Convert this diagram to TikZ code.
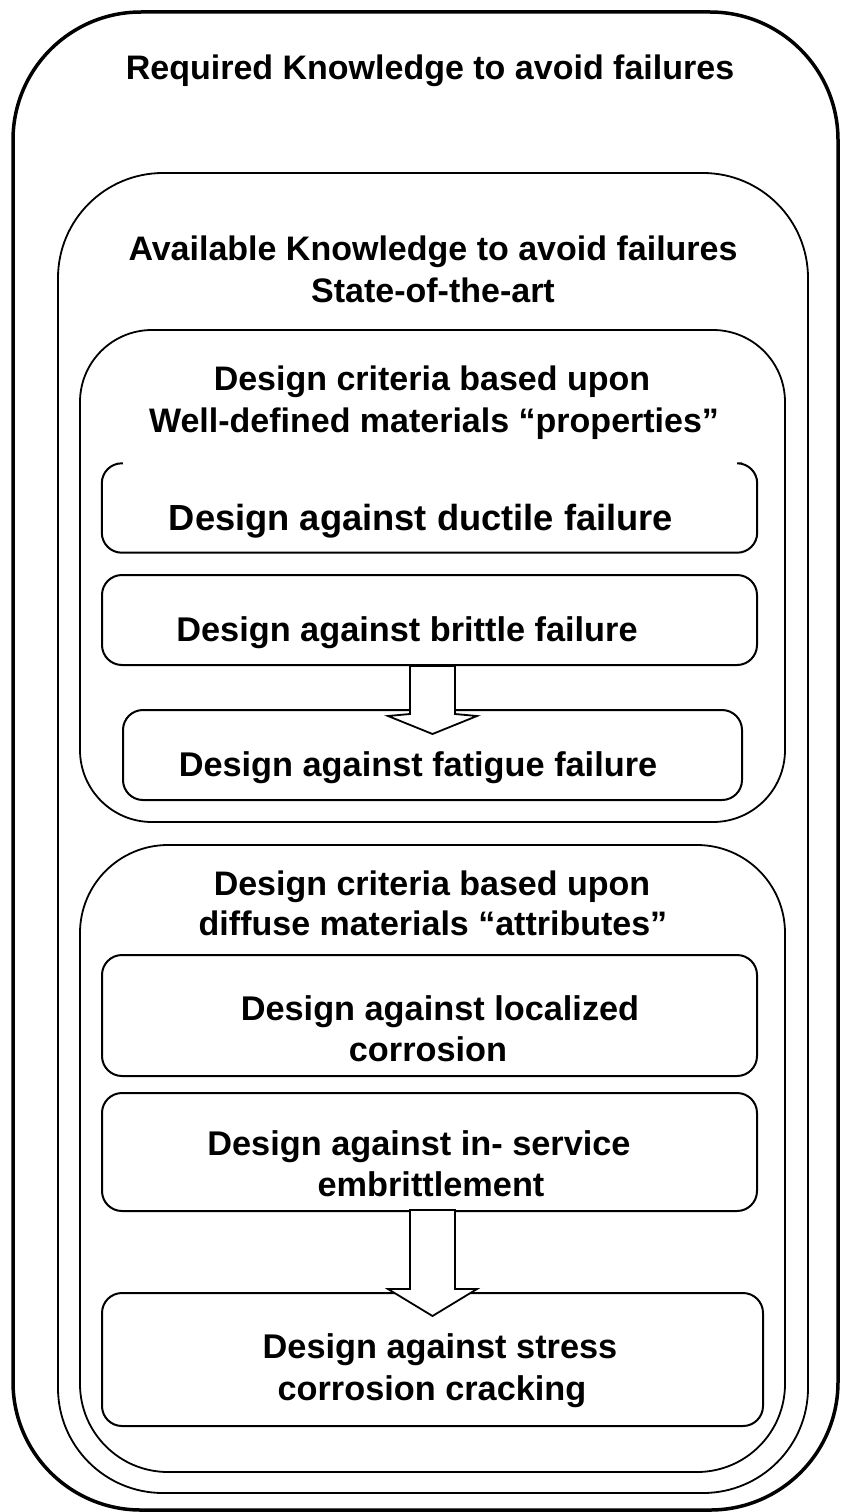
\documentclass[tikz,border=0pt]{standalone}
\usepackage{fontspec}
\setmainfont{Liberation Sans}
\usetikzlibrary{calc}
\begin{document}
\begin{tikzpicture}[x=1pt,y=-1pt,
  frame/.style={draw, inner sep=0pt, rectangle},
  bigbox/.style={frame, line width=1.8pt},
  smallbox/.style={frame, line width=2pt, rounded corners=20pt},
  hdr/.style={anchor=base, inner sep=0pt, font=\bfseries\fontsize{34}{41}\selectfont},
  txt/.style={anchor=base, inner sep=0pt, font=\bfseries\fontsize{34.3}{42}\selectfont},
  bigtxt/.style={anchor=base, inner sep=0pt, font=\bfseries\fontsize{36.3}{42}\selectfont},
  blockarrow/.style={draw, fill=white, line width=1.8pt, line join=miter}]
\useasboundingbox (0,0) rectangle (842,1512);
% containers
\node[frame, line width=3.5pt, rounded corners=128pt, minimum width=825pt, minimum height=1498pt] (outer) at (425.5,761) {};
\node[bigbox, rounded corners=105pt, minimum width=750pt, minimum height=1320pt] (avail) at (433,833) {};
\node[bigbox, rounded corners=72pt, minimum width=705pt, minimum height=492pt] (props) at (432.5,576) {};
\node[bigbox, rounded corners=88pt, minimum width=705pt, minimum height=627pt] (attr) at (432.5,1158.5) {};
% inner boxes
\node[inner sep=0pt, minimum width=655pt, minimum height=89pt] (ductile) at (429.5,508) {};
\draw[line width=2pt, rounded corners=20pt]
  ($(ductile.north west)+(21,0)$) -- (ductile.north west) -- (ductile.south west)
  -- (ductile.south east) -- (ductile.north east) -- ($(ductile.north east)+(-15,0)$);
\node[smallbox, minimum width=655pt, minimum height=90pt] (brittle) at (429.5,620) {};
\node[smallbox, minimum width=619pt, minimum height=90pt] (fatigue) at (432.5,755) {};
\node[smallbox, minimum width=655pt, minimum height=121pt] (localized) at (429.5,1015.5) {};
\node[smallbox, minimum width=655pt, minimum height=118pt] (inservice) at (429.5,1152) {};
\node[smallbox, minimum width=661pt, minimum height=133pt] (stress) at (432.5,1359.5) {};
% block arrows
\draw[blockarrow]
  ($(brittle.south)+(-19.5,0)$) -- ($(brittle.south)+(-19.5,48)$) -- ($(brittle.south)+(-41.5,50)$)
  -- ($(brittle.south)+(3,68)$) -- ($(brittle.south)+(47.5,50)$) -- ($(brittle.south)+(25.5,48)$)
  -- ($(brittle.south)+(25.5,0)$) -- cycle;
\draw[blockarrow]
  ($(inservice.south)+(-19.5,-2)$) -- ($(inservice.south)+(-19.5,77)$) -- ($(inservice.south)+(-41.5,77)$)
  -- ($(inservice.south)+(3,104)$) -- ($(inservice.south)+(47.5,77)$) -- ($(inservice.south)+(25.5,77)$)
  -- ($(inservice.south)+(25.5,-2)$) -- cycle;
% texts
\node[hdr] (treq) at (430,80) {Required Knowledge to avoid failures};
\node[hdr] (tav1) at (433,260) {Available Knowledge to avoid failures};
\node[hdr] (tav2) at (433,302) {State-of-the-art};
\node[hdr] (tpr1) at (432,390) {Design criteria based upon};
\node[hdr] (tpr2) at (434,432) {Well-defined materials “properties”};
\node[bigtxt] (tduc) at (421,530) {Design against ductile failure};
\node[txt] (tbri) at (407,641) {Design against brittle failure};
\node[txt] (tfat) at (418,776) {Design against fatigue failure};
\node[hdr] (tat1) at (432,895) {Design criteria based upon};
\node[hdr] (tat2) at (433,935) {diffuse materials “attributes”};
\node[txt] (tlo1) at (440,1020) {Design against localized};
\node[txt] (tlo2) at (428,1061) {corrosion};
\node[txt] (tin1) at (419,1155) {Design against in- service};
\node[txt] (tin2) at (431,1196) {embrittlement};
\node[txt] (tst1) at (440,1358) {Design against stress};
\node[txt] (tst2) at (432,1400) {corrosion cracking};
\end{tikzpicture}
\end{document}
